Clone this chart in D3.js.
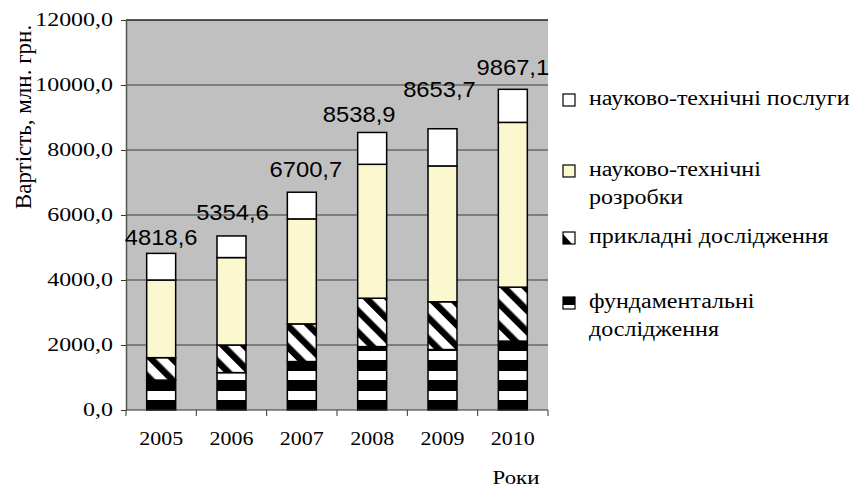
<!DOCTYPE html>
<html><head><meta charset="utf-8">
<script src="https://cdn.jsdelivr.net/npm/d3@7/dist/d3.min.js"></script>
<style>body{margin:0;background:#fff}svg{display:block}</style>
</head><body>
<svg id="c" width="855" height="489"></svg>
<script>
// ---- data ----
const years = ["2005","2006","2007","2008","2009","2010"];
const fundamental = [920, 1150, 1490, 1950, 1860, 2120];
const applied     = [690, 850, 1160, 1490, 1470, 1660];
const development = [2390, 2690, 3230, 4120, 4180, 5070];
const services    = [819, 665, 821, 979, 1144, 1017];
const totals      = [4818.6, 5354.6, 6700.7, 8538.9, 8653.7, 9867.1];
const totalLabels = ["4818,6","5354,6","6700,7","8538,9","8653,7","9867,1"];
const seriesNames = ["науково-технічні послуги","науково-технічні розробки","прикладні дослідження","фундаментальні дослідження"];
const yTicks = [0, 2000, 4000, 6000, 8000, 10000, 12000];
const yTitle = "Вартість, млн. грн.";
const xTitle = "Роки";

// ---- layout ----
const SERIF = "Liberation Serif";
const SANS = "Liberation Sans";
const svg = d3.select("#c");
const L = 126, R = 548, T = 20, B = 410;
const x = d3.scaleBand().domain(years).range([L, R]).paddingInner(0.588).paddingOuter(0.294);
const y = d3.scaleLinear().domain([0, 12000]).range([B, T]);
function widen(k){ return sel => sel.each(function(){ const w=this.getComputedTextLength(); d3.select(this).attr("textLength", w*k).attr("lengthAdjust","spacingAndGlyphs"); }); }

const defs = svg.append("defs");
const pf = defs.append("pattern").attr("id","pFund").attr("patternUnits","userSpaceOnUse").attr("width",40).attr("height",20);
pf.append("rect").attr("width",40).attr("height",20).attr("fill","#fff");
pf.append("rect").attr("width",40).attr("height",11).attr("fill","#000");
const pa = defs.append("pattern").attr("id","pApp").attr("patternUnits","userSpaceOnUse").attr("width",15).attr("height",15).attr("patternTransform","rotate(-45)");
pa.append("rect").attr("width",15).attr("height",15).attr("fill","#fff");
pa.append("rect").attr("width",6.5).attr("height",15).attr("fill","#000");
const plf = defs.append("pattern").attr("id","plFund").attr("patternUnits","objectBoundingBox").attr("width",1).attr("height",1);
plf.append("rect").attr("width",12).attr("height",12).attr("fill","#fff");
plf.append("rect").attr("width",12).attr("height",8).attr("fill","#000");
const pla = defs.append("pattern").attr("id","plApp").attr("patternUnits","objectBoundingBox").attr("width",1).attr("height",1);
pla.append("rect").attr("width",12).attr("height",12).attr("fill","#fff");
pla.append("path").attr("d","M0,2 L0,12 L9,12 Z").attr("fill","#000");

svg.append("rect").attr("x",L).attr("y",T).attr("width",R-L).attr("height",B-T).attr("fill","#c0c0c0");
svg.append("g").selectAll("line").data(yTicks.filter(d=>d>0)).join("line")
  .attr("x1",L).attr("x2",R).attr("y1",d=>y(d)).attr("y2",d=>y(d))
  .attr("stroke",d=>d===12000?"#222":"#3a3a3a").attr("stroke-width",d=>d===12000?1.5:1);

const rows = years.map((yr,i)=>({year:yr, fund:fundamental[i], app:applied[i], dev:development[i], serv:services[i]}));
const keys = ["fund","app","dev","serv"];
const fills = {fund:"url(#pFund)", app:"url(#pApp)", dev:"#fbf8d0", serv:"#ffffff"};
const stack = d3.stack().keys(keys)(rows);
svg.append("g").selectAll("g").data(stack).join("g")
  .attr("fill",d=>fills[d.key])
  .selectAll("rect").data(d=>d).join("rect")
  .attr("x",d=>x(d.data.year)).attr("width",x.bandwidth())
  .attr("y",d=>y(d[1])).attr("height",d=>y(d[0])-y(d[1]))
  .attr("stroke","#000").attr("stroke-width",1.5);

const yAxis = svg.append("g").attr("transform",`translate(${L},0)`)
  .call(d3.axisLeft(y).tickValues(yTicks).tickSize(5).tickSizeOuter(0).tickFormat(d=>d3.format(".1f")(d).replace(".",",")));
yAxis.select(".domain").attr("stroke","#555").attr("stroke-width",1.5);
yAxis.selectAll(".tick line").attr("stroke","#333");
yAxis.selectAll("text").attr("font-family",SERIF).attr("font-size",18).attr("fill","#000").attr("x",-13).call(widen(1.33));

const xAxis = svg.append("g").attr("transform",`translate(0,${B})`);
xAxis.append("line").attr("x1",L).attr("x2",R).attr("stroke","#333").attr("stroke-width",1);
xAxis.selectAll("line.t").data(d3.range(years.length+1)).join("line").attr("class","t")
  .attr("x1",i=>L+i*x.step()).attr("x2",i=>L+i*x.step()).attr("y1",0).attr("y2",6).attr("stroke","#333");
xAxis.selectAll("text").data(years).join("text")
  .attr("x",d=>x(d)+x.bandwidth()/2).attr("y",35).attr("text-anchor","middle")
  .attr("font-family",SERIF).attr("font-size",18).text(d=>d).call(widen(1.22));

const labelNudge = [[0,8],[1,16],[4,15],[-13,10],[-3,32],[0,14]];
svg.append("g").selectAll("text").data(years).join("text")
  .attr("x",(d,i)=>x(d)+x.bandwidth()/2+labelNudge[i][0])
  .attr("y",(d,i)=>y(totals[i])-labelNudge[i][1])
  .attr("text-anchor","middle").attr("font-family",SANS).attr("font-size",22)
  .text((d,i)=>totalLabels[i]).call(widen(1.08));

svg.append("text").attr("transform","translate(31,117) rotate(-90)").attr("text-anchor","middle")
  .attr("font-family",SERIF).attr("font-size",23).text(yTitle);
svg.append("text").attr("x",516).attr("y",484).attr("text-anchor","middle")
  .attr("font-family",SERIF).attr("font-size",19).text(xTitle).call(widen(1.2));

const legend = [
  {fill:"#fff", lines:["науково-технічні послуги"], y:105},
  {fill:"#fbf8d0", lines:["науково-технічні","розробки"], y:176},
  {fill:"url(#plApp)", lines:["прикладні дослідження"], y:243},
  {fill:"url(#plFund)", lines:["фундаментальні","дослідження"], y:308}
];
const lg = svg.append("g").selectAll("g").data(legend).join("g");
lg.append("rect").attr("x",563).attr("y",d=>d.y-11).attr("width",12).attr("height",12)
  .attr("fill",d=>d.fill).attr("stroke","#000").attr("stroke-width",1.2);
lg.each(function(d){
  const g=d3.select(this);
  d.lines.forEach((t,j)=>{
    g.append("text").attr("x",589).attr("y",d.y+j*28).attr("font-family",SERIF)
      .attr("font-size",20).text(t).call(widen(1.2));
  });
});
</script>
</body></html>
